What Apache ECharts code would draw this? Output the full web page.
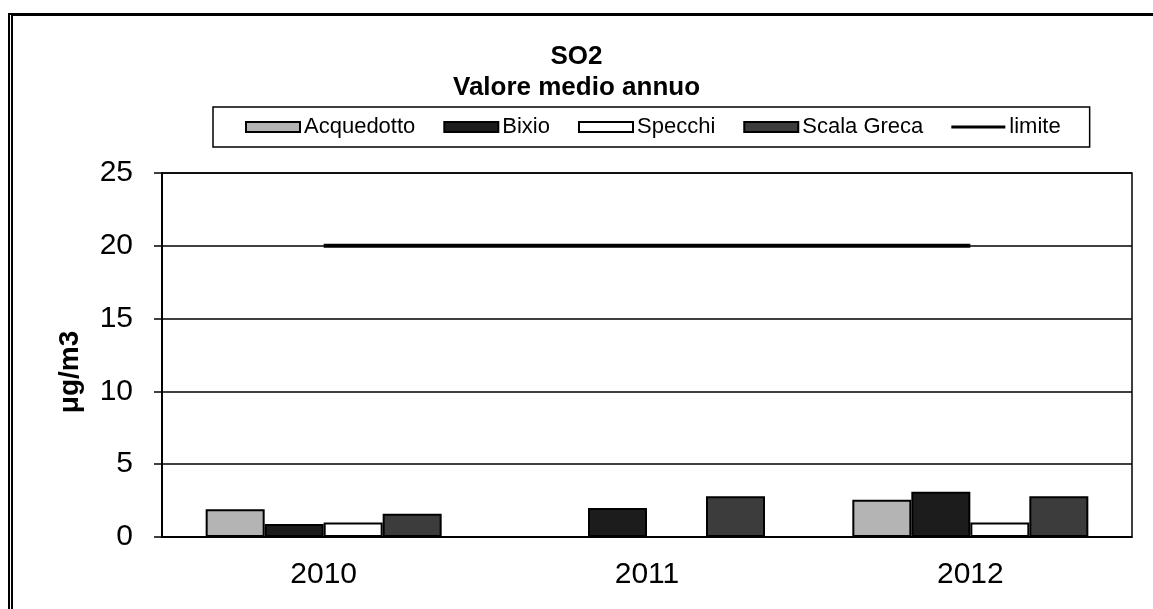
<!DOCTYPE html>
<html>
<head>
<meta charset="utf-8">
<script src="https://cdn.jsdelivr.net/npm/echarts@6/dist/echarts.min.js"></script>
<style>
  html, body { margin: 0; padding: 0; background: #fff; }
  #chart { width: 1153px; height: 609px; }
  /* cornice esterna della scansione */
  .frame { position: absolute; left: 8px; top: 13px; right: -10px; bottom: -10px;
           border-top: 3px solid #000; border-left: 5px double #000; pointer-events: none; }
</style>
</head>
<body>
<div id="chart"></div>
<div class="frame"></div>
<script>
// dati
const anni = ['2010', '2011', '2012'];
const acquedotto = [1.9, null, 2.55];
const bixio = [0.9, 2.0, 3.1];
const specchi = [1.0, null, 1.0];
const scalaGreca = [1.6, 2.8, 2.8];
const limite = [20, 20, 20];

const font = 'Liberation Sans, Arial, sans-serif';
const bordo = { borderColor: '#000', borderWidth: 2 };

function barra(name, data, color) {
  return {
    name, type: 'bar', data,
    barWidth: 59, barGap: '0%',
    itemStyle: Object.assign({ color }, bordo)
  };
}

// icona linea spessa per "limite" (i punti agli estremi fissano il riquadro 54x10)
const iconaLinea = 'path://M0,0 L0.01,0 Z M0,10 L0.01,10 Z M0,3.5 L54,3.5 L54,6.5 L0,6.5 Z';

const chart = echarts.init(document.getElementById('chart'));
chart.setOption({
  animation: false,
  backgroundColor: '#fff',
  title: {
    text: 'SO2\nValore medio annuo',
    left: 'center', top: 36,
    textStyle: { fontFamily: font, fontSize: 26, fontWeight: 'bold', color: '#000', lineHeight: 31 }
  },
  legend: {
    left: 213, top: 107,
    padding: [9, 29, 9, 32],
    borderColor: '#000', borderWidth: 1.5,
    itemWidth: 54, itemHeight: 10, itemGap: 28,
    textStyle: { fontFamily: font, fontSize: 22, color: '#000', padding: [0, 0, 0, -1] },
    data: [
      { name: 'Acquedotto', icon: 'rect' },
      { name: 'Bixio', icon: 'rect' },
      { name: 'Specchi', icon: 'rect' },
      { name: 'Scala Greca', icon: 'rect' },
      { name: 'limite', icon: iconaLinea, itemStyle: { color: '#000', borderWidth: 0 } }
    ]
  },
  grid: {
    left: 162, right: 21, top: 173, bottom: 72,
    show: true, borderColor: '#000', borderWidth: 1.5
  },
  xAxis: {
    type: 'category', data: anni,
    axisLine: { lineStyle: { color: '#000', width: 1.5 } },
    axisTick: { length: 11, lineStyle: { color: '#000', width: 1.5 } },
    axisLabel: { fontFamily: font, fontSize: 30, color: '#000', margin: 23 }
  },
  yAxis: {
    type: 'value', min: 0, max: 25, interval: 5,
    name: 'μg/m3', nameLocation: 'middle', nameGap: 78,
    nameTextStyle: { fontFamily: font, fontSize: 28, fontWeight: 'bold', color: '#000', padding: [0, 34, 0, 0] },
    axisLine: { show: true, lineStyle: { color: '#000', width: 2 } },
    axisTick: { show: true, length: 8, lineStyle: { color: '#000', width: 1.5 } },
    axisLabel: { fontFamily: font, fontSize: 30, color: '#000', margin: 29 },
    splitLine: { lineStyle: { color: '#000', width: 1.5 } }
  },
  series: [
    barra('Acquedotto', acquedotto, '#b4b4b4'),
    barra('Bixio', bixio, '#1c1c1c'),
    barra('Specchi', specchi, '#ffffff'),
    barra('Scala Greca', scalaGreca, '#3c3c3c'),
    {
      name: 'limite', type: 'line', data: limite,
      symbol: 'none',
      lineStyle: { color: '#000', width: 4 },
      itemStyle: { color: '#000' }
    }
  ]
});
</script>
</body>
</html>
